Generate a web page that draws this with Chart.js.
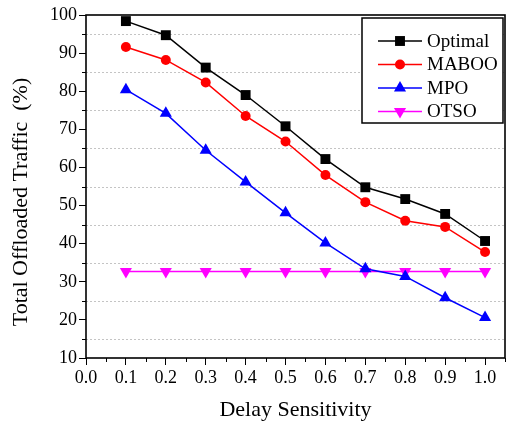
<!DOCTYPE html>
<html>
<head>
<meta charset="utf-8">
<script src="https://cdn.jsdelivr.net/npm/chart.js@4/dist/chart.umd.min.js"></script>
<style>
    html, body { margin: 0; padding: 0; background: #fff; }
    #wrap { width: 512px; height: 425px; }
</style>
</head>
<body>
<div id="wrap"><canvas id="offload"></canvas></div>
<script>
"use strict";

const sensitivity = [0.1, 0.2, 0.3, 0.4, 0.5, 0.6, 0.7, 0.8, 0.9, 1.0];
const optimal = [98.4, 94.7, 86.2, 79.0, 70.8, 62.2, 54.8, 51.7, 47.8, 40.7];
const maboo = [91.6, 88.2, 82.3, 73.5, 66.8, 58.0, 50.9, 46.0, 44.4, 37.8];
const mpo = [80.4, 74.2, 64.5, 56.2, 48.1, 40.2, 33.4, 31.4, 25.8, 20.6];
const otso = [32.7, 32.7, 32.7, 32.7, 32.7, 32.7, 32.7, 32.7, 32.7, 32.7];

const FONT = "'Liberation Serif', 'Times New Roman', serif";

function pairs(values) {
    return sensitivity.map((s, i) => ({ x: s, y: values[i] }));
}

function series(label, values, color, style, radius, rotation) {
    return {
        label: label,
        data: pairs(values),
        borderColor: color,
        backgroundColor: color,
        borderWidth: 1.5,
        pointStyle: style,
        pointRadius: radius,
        pointRotation: rotation || 0,
        pointBorderWidth: 0,
        pointBackgroundColor: color,
        tension: 0,
    };
}

// small marker helper, only for the legend samples
function marker(ctx, style, cx, cy, r, rot) {
    ctx.beginPath();
    if (style === "rect") {
        const s = Math.SQRT1_2 * r;
        ctx.rect(cx - s, cy - s, 2 * s, 2 * s);
    } else if (style === "circle") {
        ctx.arc(cx, cy, r, 0, Math.PI * 2);
    } else {
        let a = (rot || 0) * Math.PI / 180;
        for (let k = 0; k < 3; k++) {
            const px = cx + Math.sin(a) * r, py = cy - Math.cos(a) * r;
            k === 0 ? ctx.moveTo(px, py) : ctx.lineTo(px, py);
            a += 2 * Math.PI / 3;
        }
        ctx.closePath();
    }
    ctx.fill();
}

const framePlugin = {
    id: "frame",
    beforeDatasetsDraw(chart) {
        const { ctx, chartArea: a, scales: { y } } = chart;
        ctx.save();
        ctx.strokeStyle = "#c4c4c4";
        ctx.lineWidth = 1;
        ctx.setLineDash([2, 2]);
        for (let v = 15; v < 100; v += 10) {
            const py = Math.round(y.getPixelForValue(v)) + 0.5;
            ctx.beginPath();
            ctx.moveTo(a.left, py);
            ctx.lineTo(a.right, py);
            ctx.stroke();
        }
        ctx.restore();
    },
    afterDraw(chart) {
        const { ctx, chartArea: a, scales: { x, y } } = chart;
        ctx.save();

        // minor ticks
        ctx.strokeStyle = "#000";
        ctx.lineWidth = 1;
        for (let v = 15; v < 100; v += 10) {
            const py = Math.round(y.getPixelForValue(v)) + 0.5;
            ctx.beginPath();
            ctx.moveTo(a.left - 4, py);
            ctx.lineTo(a.left, py);
            ctx.stroke();
        }
        for (let k = 0; k < 11; k++) {
            const px = Math.round(x.getPixelForValue(0.05 + k * 0.1)) + 0.5;
            ctx.beginPath();
            ctx.moveTo(px, a.bottom);
            ctx.lineTo(px, a.bottom + 4);
            ctx.stroke();
        }

        // box round the plot
        ctx.lineWidth = 1.6;
        ctx.strokeRect(a.left, a.top, a.right - a.left, a.bottom - a.top);

        // axis titles
        ctx.fillStyle = "#000";
        ctx.font = "22px " + FONT;
        ctx.textAlign = "center";
        ctx.textBaseline = "alphabetic";
        ctx.fillText("Delay Sensitivity", (a.left + a.right) / 2, 416);
        ctx.save();
        ctx.translate(27, 202);
        ctx.rotate(-Math.PI / 2);
        ctx.fillText("Total Offloaded Traffic  (%)", 0, 0);
        ctx.restore();

        // legend
        const lx = 362, ly = 18, lw = 141, lh = 105;
        ctx.fillStyle = "#fff";
        ctx.fillRect(lx, ly, lw, lh);
        ctx.lineWidth = 1.5;
        ctx.strokeStyle = "#000";
        ctx.strokeRect(lx, ly, lw, lh);
        ctx.font = "19px " + FONT;
        ctx.textAlign = "left";
        ctx.textBaseline = "middle";
        chart.data.datasets.forEach((ds, i) => {
            const cy = 41 + i * 23.5;
            ctx.strokeStyle = ds.borderColor;
            ctx.fillStyle = ds.borderColor;
            ctx.lineWidth = 1.5;
            ctx.beginPath();
            ctx.moveTo(378, cy);
            ctx.lineTo(422, cy);
            ctx.stroke();
            marker(ctx, ds.pointStyle, 400, cy, ds.pointRadius, ds.pointRotation);
            ctx.fillStyle = "#000";
            ctx.fillText(ds.label, 427, cy + 1);
        });
        ctx.restore();
    },
};

const ctx = document.getElementById("offload").getContext("2d");
new Chart(ctx, {
    type: "line",
    data: {
        datasets: [
            series("Optimal", optimal, "#000000", "rect", 7),
            series("MABOO", maboo, "#ff0000", "circle", 5),
            series("MPO", mpo, "#0000ff", "triangle", 7),
            series("OTSO", otso, "#ff00ff", "triangle", 7, 180),
        ],
    },
    options: {
        responsive: true,
        maintainAspectRatio: false,
        animation: false,
        devicePixelRatio: 1,
        layout: { padding: { left: 0, top: 15, right: 5, bottom: 0 } },
        plugins: {
            legend: { display: false },
            tooltip: { enabled: false },
        },
        scales: {
            x: {
                type: "linear",
                min: 0,
                max: 1.05,
                afterFit: (s) => { s.height = 67; },
                border: { display: false },
                grid: {
                    drawOnChartArea: false,
                    drawTicks: true,
                    tickLength: 7,
                    color: "#000",
                },
                ticks: {
                    stepSize: 0.1,
                    includeBounds: false,
                    maxRotation: 0,
                    autoSkip: false,
                    padding: 2,
                    color: "#000",
                    font: { family: FONT, size: 18 },
                    callback: (v) => Number(v).toFixed(1),
                },
            },
            y: {
                min: 10,
                max: 100,
                afterFit: (s) => { s.width = 86; },
                border: { display: false },
                grid: {
                    drawOnChartArea: false,
                    drawTicks: true,
                    tickLength: 7,
                    color: "#000",
                },
                ticks: {
                    stepSize: 10,
                    padding: 2,
                    color: "#000",
                    font: { family: FONT, size: 18 },
                },
            },
        },
    },
    plugins: [framePlugin],
});
</script>
</body>
</html>
